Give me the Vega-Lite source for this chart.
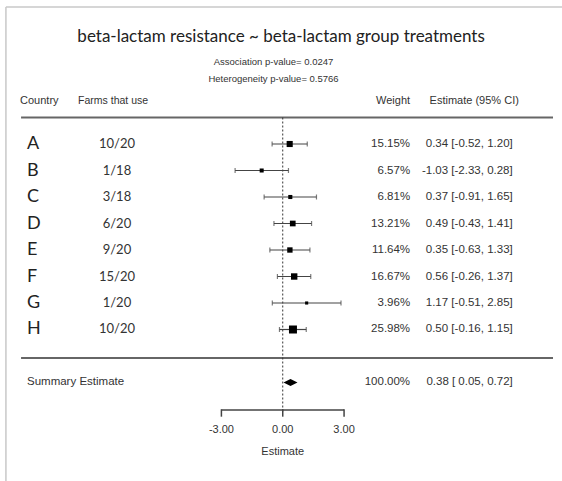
{
  "$schema": "https://vega.github.io/schema/vega-lite/v6.json",
  "width": 562,
  "height": 481,
  "padding": 0,
  "autosize": {"type": "none"},
  "background": "white",
  "config": {"view": {"stroke": null}},
  "datasets": {
    "studies": [
      {"country": "A", "farms": "10/20", "weight": 15.15, "weight_label": "15.15%", "est": 0.34, "lo": -0.52, "hi": 1.20, "ci": "0.34 [-0.52, 1.20]", "row": 1},
      {"country": "B", "farms": "1/18", "weight": 6.57, "weight_label": "6.57%", "est": -1.03, "lo": -2.33, "hi": 0.28, "ci": "-1.03 [-2.33, 0.28]", "row": 2},
      {"country": "C", "farms": "3/18", "weight": 6.81, "weight_label": "6.81%", "est": 0.37, "lo": -0.91, "hi": 1.65, "ci": "0.37 [-0.91, 1.65]", "row": 3},
      {"country": "D", "farms": "6/20", "weight": 13.21, "weight_label": "13.21%", "est": 0.49, "lo": -0.43, "hi": 1.41, "ci": "0.49 [-0.43, 1.41]", "row": 4},
      {"country": "E", "farms": "9/20", "weight": 11.64, "weight_label": "11.64%", "est": 0.35, "lo": -0.63, "hi": 1.33, "ci": "0.35 [-0.63, 1.33]", "row": 5},
      {"country": "F", "farms": "15/20", "weight": 16.67, "weight_label": "16.67%", "est": 0.56, "lo": -0.26, "hi": 1.37, "ci": "0.56 [-0.26, 1.37]", "row": 6},
      {"country": "G", "farms": "1/20", "weight": 3.96, "weight_label": "3.96%", "est": 1.17, "lo": -0.51, "hi": 2.85, "ci": "1.17 [-0.51, 2.85]", "row": 7},
      {"country": "H", "farms": "10/20", "weight": 25.98, "weight_label": "25.98%", "est": 0.50, "lo": -0.16, "hi": 1.15, "ci": "0.50 [-0.16, 1.15]", "row": 8}
    ],
    "summary": [
      {"label": "Summary Estimate", "weight_label": "100.00%", "est": 0.38, "lo": 0.05, "hi": 0.72, "ci": "0.38 [ 0.05, 0.72]", "row": 10}
    ],
    "ticks": [
      {"value": -3, "label": "-3.00"},
      {"value": 0, "label": "0.00"},
      {"value": 3, "label": "3.00"}
    ],
    "one": [{}]
  },
  "layer": [
    {
      "data": {"name": "one"},
      "mark": {"type": "rule", "stroke": "#c8c8c8", "strokeWidth": 1.5},
      "encoding": {
        "x": {"datum": -13.54, "type": "quantitative", "scale": {"domain": [-13.83, 13.66], "nice": false, "zero": false}, "axis": null},
        "x2": {"datum": 13.7},
        "y": {"datum": -4.17, "type": "quantitative", "scale": {"domain": [-4.434, 13.717], "reverse": true, "nice": false, "zero": false}, "axis": null}
      }
    },
    {
      "data": {"name": "one"},
      "mark": {"type": "rule", "stroke": "#c8c8c8", "strokeWidth": 1.5},
      "encoding": {
        "x": {"datum": -13.54, "type": "quantitative", "scale": {"domain": [-13.83, 13.66], "nice": false, "zero": false}, "axis": null},
        "y": {"datum": -4.17, "type": "quantitative", "scale": {"domain": [-4.434, 13.717], "reverse": true, "nice": false, "zero": false}, "axis": null},
        "y2": {"datum": 13.717}
      }
    },
    {
      "data": {"name": "one"},
      "mark": {"type": "rule", "stroke": "#666666", "strokeWidth": 2},
      "encoding": {
        "x": {"datum": -12.8, "type": "quantitative", "scale": {"domain": [-13.83, 13.66], "nice": false, "zero": false}, "axis": null},
        "x2": {"datum": 13.22},
        "y": {"datum": 0, "type": "quantitative", "scale": {"domain": [-4.434, 13.717], "reverse": true, "nice": false, "zero": false}, "axis": null}
      }
    },
    {
      "data": {"name": "one"},
      "mark": {"type": "rule", "stroke": "#666666", "strokeWidth": 2},
      "encoding": {
        "x": {"datum": -12.8, "type": "quantitative", "scale": {"domain": [-13.83, 13.66], "nice": false, "zero": false}, "axis": null},
        "x2": {"datum": 13.22},
        "y": {"datum": 9.08, "type": "quantitative", "scale": {"domain": [-4.434, 13.717], "reverse": true, "nice": false, "zero": false}, "axis": null}
      }
    },
    {
      "data": {"name": "one"},
      "mark": {"type": "rule", "stroke": "#333333", "strokeWidth": 1, "strokeDash": [2, 2]},
      "encoding": {
        "x": {"datum": 0, "type": "quantitative", "scale": {"domain": [-13.83, 13.66], "nice": false, "zero": false}, "axis": null},
        "y": {"datum": 0, "type": "quantitative", "scale": {"domain": [-4.434, 13.717], "reverse": true, "nice": false, "zero": false}, "axis": null},
        "y2": {"datum": 11.15}
      }
    },
    {
      "data": {"name": "one"},
      "mark": {"type": "rule", "stroke": "#444444", "strokeWidth": 1.5},
      "encoding": {
        "x": {"datum": -3, "type": "quantitative", "scale": {"domain": [-13.83, 13.66], "nice": false, "zero": false}, "axis": null},
        "x2": {"datum": 3},
        "y": {"datum": 11.038, "type": "quantitative", "scale": {"domain": [-4.434, 13.717], "reverse": true, "nice": false, "zero": false}, "axis": null}
      }
    },
    {
      "data": {"name": "ticks"},
      "mark": {"type": "rule", "stroke": "#444444", "strokeWidth": 1.5},
      "encoding": {
        "x": {"field": "value", "type": "quantitative", "scale": {"domain": [-13.83, 13.66], "nice": false, "zero": false}, "axis": null},
        "y": {"datum": 11.01, "type": "quantitative", "scale": {"domain": [-4.434, 13.717], "reverse": true, "nice": false, "zero": false}, "axis": null},
        "y2": {"datum": 11.29}
      }
    },
    {
      "data": {"name": "ticks"},
      "mark": {"type": "text", "font": "Liberation Sans", "fontSize": 11, "color": "#333333", "align": "center", "baseline": "middle"},
      "encoding": {
        "x": {"field": "value", "type": "quantitative", "scale": {"domain": [-13.83, 13.66], "nice": false, "zero": false}, "axis": null},
        "y": {"datum": 11.8, "type": "quantitative", "scale": {"domain": [-4.434, 13.717], "reverse": true, "nice": false, "zero": false}, "axis": null},
        "text": {"field": "label"}
      }
    },
    {
      "data": {"name": "one"},
      "mark": {"type": "text", "text": "Estimate", "font": "Liberation Sans", "fontSize": 11, "color": "#333333", "align": "center", "baseline": "middle"},
      "encoding": {
        "x": {"datum": 0, "type": "quantitative", "scale": {"domain": [-13.83, 13.66], "nice": false, "zero": false}, "axis": null},
        "y": {"datum": 12.62, "type": "quantitative", "scale": {"domain": [-4.434, 13.717], "reverse": true, "nice": false, "zero": false}, "axis": null}
      }
    },
    {
      "data": {"name": "studies"},
      "mark": {"type": "rule", "stroke": "#444444", "strokeWidth": 1.2},
      "encoding": {
        "x": {"field": "lo", "type": "quantitative", "scale": {"domain": [-13.83, 13.66], "nice": false, "zero": false}, "axis": null},
        "x2": {"field": "hi"},
        "y": {"field": "row", "type": "quantitative", "scale": {"domain": [-4.434, 13.717], "reverse": true, "nice": false, "zero": false}, "axis": null}
      }
    },
    {
      "data": {"name": "studies"},
      "mark": {"type": "tick", "orient": "vertical", "color": "#444444", "size": 5, "thickness": 1.2},
      "encoding": {
        "x": {"field": "lo", "type": "quantitative", "scale": {"domain": [-13.83, 13.66], "nice": false, "zero": false}, "axis": null},
        "y": {"field": "row", "type": "quantitative", "scale": {"domain": [-4.434, 13.717], "reverse": true, "nice": false, "zero": false}, "axis": null}
      }
    },
    {
      "data": {"name": "studies"},
      "mark": {"type": "tick", "orient": "vertical", "color": "#444444", "size": 5, "thickness": 1.2},
      "encoding": {
        "x": {"field": "hi", "type": "quantitative", "scale": {"domain": [-13.83, 13.66], "nice": false, "zero": false}, "axis": null},
        "y": {"field": "row", "type": "quantitative", "scale": {"domain": [-4.434, 13.717], "reverse": true, "nice": false, "zero": false}, "axis": null}
      }
    },
    {
      "data": {"name": "studies"},
      "mark": {"type": "point", "shape": "square", "filled": true, "color": "#000000", "opacity": 1},
      "encoding": {
        "x": {"field": "est", "type": "quantitative", "scale": {"domain": [-13.83, 13.66], "nice": false, "zero": false}, "axis": null},
        "y": {"field": "row", "type": "quantitative", "scale": {"domain": [-4.434, 13.717], "reverse": true, "nice": false, "zero": false}, "axis": null},
        "size": {"field": "weight", "type": "quantitative", "scale": {"domain": [0, 26], "range": [0, 64]}, "legend": null}
      }
    },
    {
      "data": {"name": "summary"},
      "mark": {"type": "point", "shape": "M-1,0L0,-0.5L1,0L0,0.5Z", "filled": true, "color": "#000000", "opacity": 1, "size": 196},
      "encoding": {
        "x": {"field": "est", "type": "quantitative", "scale": {"domain": [-13.83, 13.66], "nice": false, "zero": false}, "axis": null},
        "y": {"field": "row", "type": "quantitative", "scale": {"domain": [-4.434, 13.717], "reverse": true, "nice": false, "zero": false}, "axis": null}
      }
    },
    {
      "data": {"name": "studies"},
      "mark": {"type": "text", "font": "Lato", "fontSize": 18, "color": "#222222", "align": "left", "baseline": "middle"},
      "encoding": {
        "x": {"datum": -12.51, "type": "quantitative", "scale": {"domain": [-13.83, 13.66], "nice": false, "zero": false}, "axis": null},
        "y": {"field": "row", "type": "quantitative", "scale": {"domain": [-4.434, 13.717], "reverse": true, "nice": false, "zero": false}, "axis": null},
        "text": {"field": "country"}
      }
    },
    {
      "data": {"name": "studies"},
      "mark": {"type": "text", "font": "Lato", "fontSize": 13, "color": "#333333", "align": "center", "baseline": "middle"},
      "encoding": {
        "x": {"datum": -8.11, "type": "quantitative", "scale": {"domain": [-13.83, 13.66], "nice": false, "zero": false}, "axis": null},
        "y": {"field": "row", "type": "quantitative", "scale": {"domain": [-4.434, 13.717], "reverse": true, "nice": false, "zero": false}, "axis": null},
        "text": {"field": "farms"}
      }
    },
    {
      "data": {"name": "studies"},
      "mark": {"type": "text", "font": "Liberation Sans", "fontSize": 11.5, "color": "#333333", "align": "right", "baseline": "middle"},
      "encoding": {
        "x": {"datum": 6.23, "type": "quantitative", "scale": {"domain": [-13.83, 13.66], "nice": false, "zero": false}, "axis": null},
        "y": {"field": "row", "type": "quantitative", "scale": {"domain": [-4.434, 13.717], "reverse": true, "nice": false, "zero": false}, "axis": null},
        "text": {"field": "weight_label"}
      }
    },
    {
      "data": {"name": "studies"},
      "mark": {"type": "text", "font": "Liberation Sans", "fontSize": 11.5, "color": "#333333", "align": "right", "baseline": "middle"},
      "encoding": {
        "x": {"datum": 11.25, "type": "quantitative", "scale": {"domain": [-13.83, 13.66], "nice": false, "zero": false}, "axis": null},
        "y": {"field": "row", "type": "quantitative", "scale": {"domain": [-4.434, 13.717], "reverse": true, "nice": false, "zero": false}, "axis": null},
        "text": {"field": "ci"}
      }
    },
    {
      "data": {"name": "summary"},
      "mark": {"type": "text", "font": "Liberation Sans", "fontSize": 11.5, "color": "#333333", "align": "left", "baseline": "middle"},
      "encoding": {
        "x": {"datum": -12.51, "type": "quantitative", "scale": {"domain": [-13.83, 13.66], "nice": false, "zero": false}, "axis": null},
        "y": {"field": "row", "type": "quantitative", "scale": {"domain": [-4.434, 13.717], "reverse": true, "nice": false, "zero": false}, "axis": null},
        "text": {"field": "label"}
      }
    },
    {
      "data": {"name": "summary"},
      "mark": {"type": "text", "font": "Liberation Sans", "fontSize": 11.5, "color": "#333333", "align": "right", "baseline": "middle"},
      "encoding": {
        "x": {"datum": 6.23, "type": "quantitative", "scale": {"domain": [-13.83, 13.66], "nice": false, "zero": false}, "axis": null},
        "y": {"field": "row", "type": "quantitative", "scale": {"domain": [-4.434, 13.717], "reverse": true, "nice": false, "zero": false}, "axis": null},
        "text": {"field": "weight_label"}
      }
    },
    {
      "data": {"name": "summary"},
      "mark": {"type": "text", "font": "Liberation Sans", "fontSize": 11.5, "color": "#333333", "align": "right", "baseline": "middle"},
      "encoding": {
        "x": {"datum": 11.25, "type": "quantitative", "scale": {"domain": [-13.83, 13.66], "nice": false, "zero": false}, "axis": null},
        "y": {"field": "row", "type": "quantitative", "scale": {"domain": [-4.434, 13.717], "reverse": true, "nice": false, "zero": false}, "axis": null},
        "text": {"field": "ci"}
      }
    },
    {
      "data": {"name": "one"},
      "mark": {"type": "text", "text": "Country", "font": "Liberation Sans", "fontSize": 11, "color": "#333333", "align": "left", "baseline": "middle"},
      "encoding": {
        "x": {"datum": -12.85, "type": "quantitative", "scale": {"domain": [-13.83, 13.66], "nice": false, "zero": false}, "axis": null},
        "y": {"datum": -0.62, "type": "quantitative", "scale": {"domain": [-4.434, 13.717], "reverse": true, "nice": false, "zero": false}, "axis": null}
      }
    },
    {
      "data": {"name": "one"},
      "mark": {"type": "text", "text": "Farms that use", "font": "Liberation Sans", "fontSize": 10.5, "color": "#333333", "align": "left", "baseline": "middle"},
      "encoding": {
        "x": {"datum": -10.01, "type": "quantitative", "scale": {"domain": [-13.83, 13.66], "nice": false, "zero": false}, "axis": null},
        "y": {"datum": -0.62, "type": "quantitative", "scale": {"domain": [-4.434, 13.717], "reverse": true, "nice": false, "zero": false}, "axis": null}
      }
    },
    {
      "data": {"name": "one"},
      "mark": {"type": "text", "text": "Weight", "font": "Liberation Sans", "fontSize": 11, "color": "#333333", "align": "right", "baseline": "middle"},
      "encoding": {
        "x": {"datum": 6.23, "type": "quantitative", "scale": {"domain": [-13.83, 13.66], "nice": false, "zero": false}, "axis": null},
        "y": {"datum": -0.62, "type": "quantitative", "scale": {"domain": [-4.434, 13.717], "reverse": true, "nice": false, "zero": false}, "axis": null}
      }
    },
    {
      "data": {"name": "one"},
      "mark": {"type": "text", "text": "Estimate (95% CI)", "font": "Liberation Sans", "fontSize": 11, "color": "#333333", "align": "right", "baseline": "middle"},
      "encoding": {
        "x": {"datum": 11.55, "type": "quantitative", "scale": {"domain": [-13.83, 13.66], "nice": false, "zero": false}, "axis": null},
        "y": {"datum": -0.62, "type": "quantitative", "scale": {"domain": [-4.434, 13.717], "reverse": true, "nice": false, "zero": false}, "axis": null}
      }
    },
    {
      "data": {"name": "one"},
      "mark": {"type": "text", "text": "beta-lactam resistance ~ beta-lactam group treatments", "font": "Lato", "fontSize": 17, "color": "#222222", "align": "center", "baseline": "middle"},
      "encoding": {
        "x": {"datum": -0.08, "type": "quantitative", "scale": {"domain": [-13.83, 13.66], "nice": false, "zero": false}, "axis": null},
        "y": {"datum": -3.02, "type": "quantitative", "scale": {"domain": [-4.434, 13.717], "reverse": true, "nice": false, "zero": false}, "axis": null}
      }
    },
    {
      "data": {"name": "one"},
      "mark": {"type": "text", "text": "Association p-value= 0.0247", "font": "Liberation Sans", "fontSize": 9.5, "color": "#333333", "align": "center", "baseline": "middle"},
      "encoding": {
        "x": {"datum": -0.45, "type": "quantitative", "scale": {"domain": [-13.83, 13.66], "nice": false, "zero": false}, "axis": null},
        "y": {"datum": -2.11, "type": "quantitative", "scale": {"domain": [-4.434, 13.717], "reverse": true, "nice": false, "zero": false}, "axis": null}
      }
    },
    {
      "data": {"name": "one"},
      "mark": {"type": "text", "text": "Heterogeneity p-value= 0.5766", "font": "Liberation Sans", "fontSize": 9.5, "color": "#333333", "align": "center", "baseline": "middle"},
      "encoding": {
        "x": {"datum": -0.45, "type": "quantitative", "scale": {"domain": [-13.83, 13.66], "nice": false, "zero": false}, "axis": null},
        "y": {"datum": -1.46, "type": "quantitative", "scale": {"domain": [-4.434, 13.717], "reverse": true, "nice": false, "zero": false}, "axis": null}
      }
    }
  ]
}
